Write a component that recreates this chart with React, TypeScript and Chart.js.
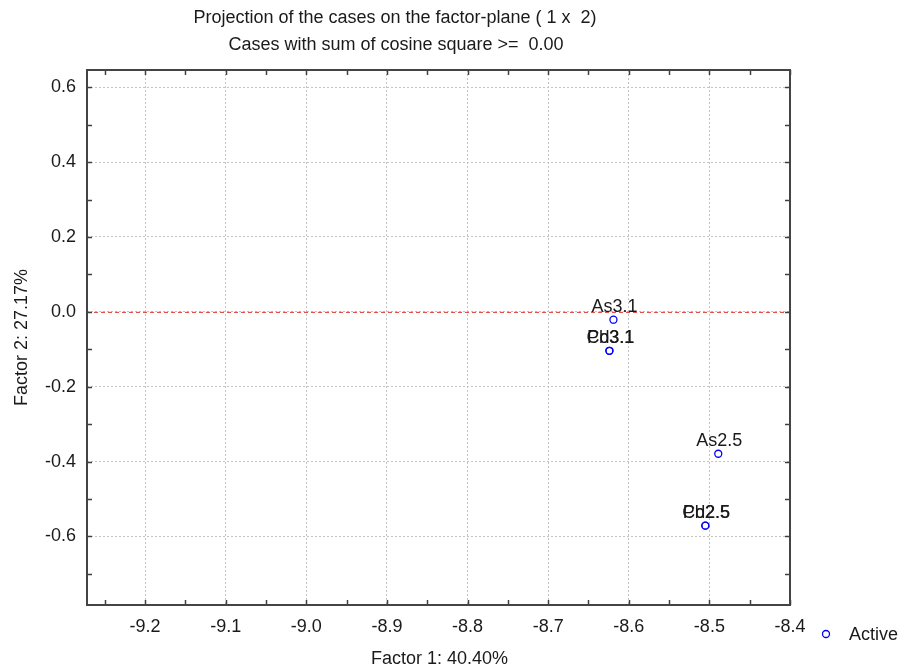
import { useEffect, useRef } from "react";
import { Chart, registerables } from "chart.js";

Chart.register(...registerables);

const caseLabels = ["As3.1", "Pb3.1", "Cd3.1", "As2.5", "Pb2.5", "Cd2.5"];
const factor1 = [-8.619, -8.624, -8.624, -8.489, -8.505, -8.505];
const factor2 = [-0.021, -0.104, -0.104, -0.379, -0.571, -0.571];

const xTicks = [-9.2, -9.1, -9.0, -8.9, -8.8, -8.7, -8.6, -8.5, -8.4];
const xMinorTicks = [-9.25, -9.15, -9.05, -8.95, -8.85, -8.75, -8.65, -8.55, -8.45];
const yTicks = [0.6, 0.4, 0.2, 0.0, -0.2, -0.4, -0.6];
const yMinorTicks = [0.5, 0.3, 0.1, -0.1, -0.3, -0.5, -0.7];

const titleLines = [
  "Projection of the cases on the factor-plane ( 1 x  2)",
  "Cases with sum of cosine square >=  0.00",
];
const xTitle = "Factor 1: 40.40%";
const yTitle = "Factor 2: 27.17%";
const legendLabel = "Active";

const FONT = "'Liberation Sans', Arial, sans-serif";
const TEXT = "#1a1a1a";
const BLUE = "#0000ff";

const decor = {
  id: "decor",
  beforeDatasetsDraw(chart: any) {
    const { ctx, chartArea } = chart;
    const y0 = chart.scales.y.getPixelForValue(0);
    ctx.save();
    ctx.strokeStyle = "#e03030";
    ctx.lineWidth = 1;
    ctx.setLineDash([4, 3]);
    ctx.beginPath();
    ctx.moveTo(chartArea.left, y0 + 0.5);
    ctx.lineTo(chartArea.right, y0 + 0.5);
    ctx.stroke();
    ctx.restore();
  },
  afterDatasetsDraw(chart: any) {
    const { ctx } = chart;
    const meta = chart.getDatasetMeta(0);
    ctx.save();
    ctx.font = `18px ${FONT}`;
    ctx.fillStyle = TEXT;
    ctx.textAlign = "center";
    ctx.textBaseline = "alphabetic";
    meta.data.forEach((pt: any, i: number) => {
      ctx.fillText(caseLabels[i], pt.x + 1, pt.y - 8);
    });
    ctx.restore();
  },
  afterDraw(chart: any) {
    const { ctx, chartArea } = chart;
    const { left, right, top, bottom } = chartArea;
    const xs = chart.scales.x;
    const ys = chart.scales.y;
    ctx.save();
    // tick marks (inward, all four sides)
    ctx.strokeStyle = "#404040";
    ctx.lineWidth = 1.5;
    ctx.setLineDash([]);
    const tl = 5;
    [...xTicks, ...xMinorTicks].forEach((v) => {
      const px = Math.round(xs.getPixelForValue(v)) + 0.5;
      ctx.beginPath();
      ctx.moveTo(px, bottom);
      ctx.lineTo(px, bottom - tl);
      ctx.moveTo(px, top);
      ctx.lineTo(px, top + tl);
      ctx.stroke();
    });
    [...yTicks, ...yMinorTicks].forEach((v) => {
      const py = Math.round(ys.getPixelForValue(v)) + 0.5;
      ctx.beginPath();
      ctx.moveTo(left, py);
      ctx.lineTo(left + tl, py);
      ctx.moveTo(right, py);
      ctx.lineTo(right - tl, py);
      ctx.stroke();
    });
    // frame
    ctx.lineWidth = 2;
    ctx.strokeStyle = "#444444";
    ctx.strokeRect(left, top, right - left, bottom - top);

    // titles
    ctx.fillStyle = TEXT;
    ctx.font = `18px ${FONT}`;
    ctx.textAlign = "center";
    ctx.textBaseline = "middle";
    ctx.fillText(titleLines[0], 395, 18);
    ctx.fillText(titleLines[1], 396, 45);

    // axis titles
    ctx.fillText(xTitle, (left + right) / 2 + 1, 659);
    ctx.save();
    ctx.translate(22, (top + bottom) / 2);
    ctx.rotate(-Math.PI / 2);
    ctx.fillText(yTitle, 0, 0);
    ctx.restore();

    // legend
    ctx.strokeStyle = BLUE;
    ctx.lineWidth = 1.3;
    ctx.beginPath();
    ctx.arc(826, 634, 3.5, 0, Math.PI * 2);
    ctx.stroke();
    ctx.textAlign = "left";
    ctx.fillText(legendLabel, 849, 635);
    ctx.restore();
  },
};

export default function App() {
  const ref = useRef<HTMLCanvasElement | null>(null);

  useEffect(() => {
    if (!ref.current) return;
    const chart = new Chart(ref.current, {
      type: "scatter",
      data: {
        datasets: [
          {
            label: legendLabel,
            data: factor1.map((x, i) => ({ x, y: factor2[i] })),
            pointStyle: "circle",
            pointRadius: 3.5,
            pointHoverRadius: 3.5,
            borderColor: BLUE,
            backgroundColor: "rgba(0,0,0,0)",
            borderWidth: 1.3,
          },
        ],
      },
      options: {
        animation: false,
        responsive: false,
        maintainAspectRatio: false,
        layout: { padding: { left: 0, right: 115, top: 70, bottom: 0 } },
        plugins: {
          legend: { display: false },
          title: { display: false },
          tooltip: { enabled: false },
        },
        scales: {
          x: {
            type: "linear",
            min: -9.272,
            max: -8.4,
            afterBuildTicks: (scale: any) => {
              scale.ticks = xTicks.map((v) => ({ value: v }));
            },
            afterFit: (scale: any) => {
              scale.height = 66;
            },
            grid: {
              color: "#c4c4c4",
              lineWidth: 1,
              drawTicks: false,
            },
            border: { display: false, dash: [2, 2] },
            ticks: {
              padding: 11,
              color: TEXT,
              font: { family: FONT, size: 18 },
              maxRotation: 0,
              autoSkip: false,
              callback: (v: any) => Number(v).toFixed(1),
            },
          },
          y: {
            type: "linear",
            min: -0.783,
            max: 0.646,
            afterBuildTicks: (scale: any) => {
              scale.ticks = yTicks.map((v) => ({ value: v }));
            },
            afterFit: (scale: any) => {
              scale.width = 87;
            },
            grid: {
              color: "#c4c4c4",
              lineWidth: 1,
              drawTicks: false,
            },
            border: { display: false, dash: [2, 2] },
            ticks: {
              padding: 11,
              color: TEXT,
              font: { family: FONT, size: 18 },
              autoSkip: false,
              callback: (v: any) => Number(v).toFixed(1),
            },
          },
        },
      },
      plugins: [decor],
    });
    return () => chart.destroy();
  }, []);

  return (
    <div style={{ position: "fixed", left: 0, top: 0, width: 905, height: 671, background: "#fff" }}>
      <canvas ref={ref} width={905} height={671} style={{ display: "block", width: 905, height: 671 }} />
    </div>
  );
}
